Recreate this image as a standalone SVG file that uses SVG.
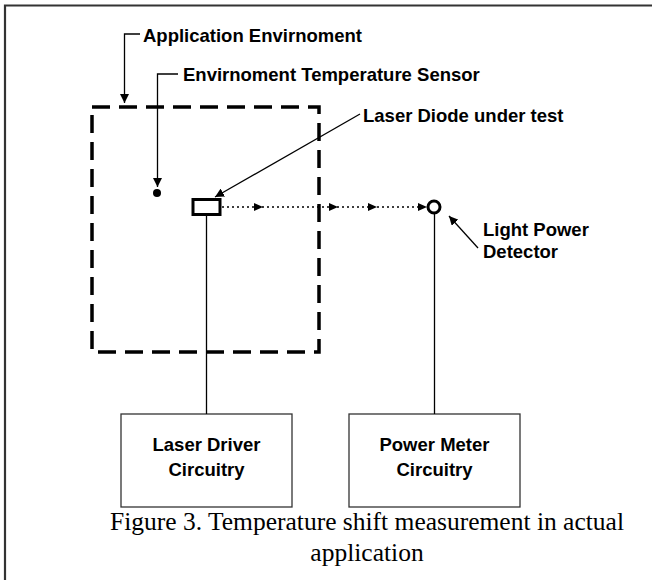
<svg xmlns="http://www.w3.org/2000/svg" width="652" height="580" viewBox="0 0 652 580">
<defs>
<marker id="ah" viewBox="0 0 10 10" refX="10" refY="5" markerWidth="9" markerHeight="9" markerUnits="userSpaceOnUse" orient="auto">
<path d="M0,0 L10,5 L0,10 Z" fill="#000"/>
</marker>
</defs>
<style>
.lbl{font-family:"Liberation Sans",Arial,sans-serif;font-weight:bold;font-size:18.5px;fill:#000}
.cap{font-family:"Liberation Serif","Times New Roman",serif;font-size:25.5px;fill:#000}
.ln{stroke:#000;stroke-width:1.3;fill:none}
.box{stroke:#333;stroke-width:1.3;fill:#fff}
.tri{fill:#000}
</style>
<rect width="652" height="580" fill="#fff"/>
<g id="frame">
<path d="M5,580 V5.5 H652" fill="none" stroke="#333" stroke-width="2.2"/>
</g>
<g id="environment">
<rect x="92" y="107" width="227" height="245" fill="none" stroke="#000" stroke-width="3.5" stroke-dasharray="18,9"/>
<text class="lbl" x="143" y="42">Application Envirnoment</text>
</g>
<g id="sensor">
<circle cx="157" cy="193" r="4" fill="#000"/>
<text class="lbl" x="183" y="81">Envirnoment Temperature Sensor</text>
</g>
<g id="laser-diode">
<rect x="193" y="199.5" width="27" height="15" fill="#fff" stroke="#000" stroke-width="3"/>
<text class="lbl" x="363" y="122">Laser Diode under test</text>
</g>
<g id="detector">
<circle cx="434" cy="207" r="6" fill="#fff" stroke="#000" stroke-width="3"/>
<text class="lbl" x="483" y="236">Light Power</text>
<text class="lbl" x="483" y="258">Detector</text>
</g>
<g id="laser-driver">
<rect class="box" x="121" y="414" width="171" height="93"/>
<text class="lbl" x="206.5" y="451" text-anchor="middle">Laser Driver</text>
<text class="lbl" x="206.5" y="476" text-anchor="middle">Circuitry</text>
</g>
<g id="power-meter">
<rect class="box" x="349" y="414" width="171" height="93"/>
<text class="lbl" x="434.5" y="451" text-anchor="middle">Power Meter</text>
<text class="lbl" x="434.5" y="476" text-anchor="middle">Circuitry</text>
</g>
<g id="connectors">
<path class="ln" d="M140,34 H124.5 V103" marker-end="url(#ah)"/>
<path class="ln" d="M178,74 H157.5 V187" marker-end="url(#ah)"/>
<path class="ln" d="M360,114 L215,197" marker-end="url(#ah)"/>
<path class="ln" d="M478,248 L449,216" marker-end="url(#ah)"/>
<path d="M222,207 H427" fill="none" stroke="#000" stroke-width="1.3" stroke-dasharray="2,3"/>
<path class="tri" d="M254,203 L263,207 L254,211 Z"/>
<path class="tri" d="M329,203 L338,207 L329,211 Z"/>
<path class="tri" d="M368,203 L377,207 L368,211 Z"/>
<path class="tri" d="M418,203 L427,207 L418,211 Z"/>
<path class="ln" d="M206.5,215 V414"/>
<path class="ln" d="M434.5,213 V414"/>
</g>
<g id="caption">
<text class="cap" x="367" y="530" text-anchor="middle">Figure 3. Temperature shift measurement in actual</text>
<text class="cap" x="367" y="561" text-anchor="middle">application</text>
</g>
</svg>
